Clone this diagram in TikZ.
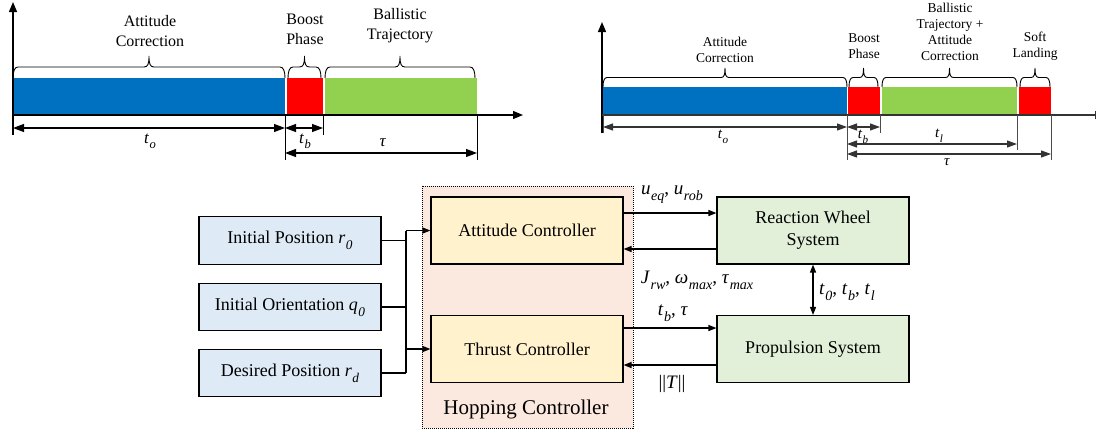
\documentclass[tikz,border=0pt]{standalone}
\usepackage{graphicx}
\usepackage{fontspec}
\setmainfont{Liberation Serif}
\usetikzlibrary{arrows.meta,calc}

\definecolor{barblue}{HTML}{0070C0}
\definecolor{barred}{HTML}{FF0000}
\definecolor{bargreen}{HTML}{92D050}
\definecolor{inblue}{HTML}{DEEBF7}
\definecolor{ctlyellow}{HTML}{FFF2CC}
\definecolor{sysgreen}{HTML}{E2F0D9}
\definecolor{hopbg}{HTML}{FBE9DF}

% italic symbol with a lowered, reduced subscript
\newcommand\vsub[2]{\textit{#1}\kern0.03em\raisebox{-0.32em}{\scalebox{0.74}{\textit{#2}}}}

% curly brace over a bar: x1, x2, base y, half height, end radius
\newcommand\tlbrace[5]{%
  \draw[brc] (#1,#3) .. controls (#1,{#3-0.6*#4}) and ({#1+0.3*#5},{#3-#4}) .. ({#1+#5},{#3-#4})
    -- ({(#1+#2)/2-#5},{#3-#4})
    .. controls ({(#1+#2)/2-0.2*#5},{#3-#4}) and ({(#1+#2)/2},{#3-1.3*#4}) .. ({(#1+#2)/2},{#3-2*#4})
    .. controls ({(#1+#2)/2},{#3-1.3*#4}) and ({(#1+#2)/2+0.2*#5},{#3-#4}) .. ({(#1+#2)/2+#5},{#3-#4})
    -- ({#2-#5},{#3-#4})
    .. controls ({#2-0.3*#5},{#3-#4}) and (#2,{#3-0.6*#4}) .. (#2,#3);}

\begin{document}
\begin{tikzpicture}[x=1pt,y=-1pt,
  bar/.style={draw=none,inner sep=0pt,outer sep=0pt,anchor=north west},
  brc/.style={line width=0.9pt},
  axis/.style={line width=1.3pt,-{Triangle[length=10pt,width=8pt]}},
  dimL/.style={line width=1.1pt,{Triangle[length=11pt,width=8pt]}-{Triangle[length=11pt,width=8pt]}},
  dimR/.style={line width=1.1pt,draw=black!80,{Triangle[length=10pt,width=7pt]}-{Triangle[length=10pt,width=7pt]}},
  tick/.style={line width=1pt},
  tickR/.style={line width=1pt,draw=black!70},
  lblL/.style={align=center,font=\fontsize{16}{20}\selectfont,inner sep=0pt},
  lblR/.style={align=center,font=\fontsize{13.5}{16}\selectfont,inner sep=0pt},
  mathL/.style={font=\fontsize{17}{20}\selectfont,inner sep=0pt},
  mathR/.style={font=\fontsize{15}{17}\selectfont,inner sep=0pt},
  blk/.style={draw,line width=1.1pt,minimum width=192,minimum height=67,align=center,
    font=\fontsize{18}{22}\selectfont,inner sep=2pt},
  inbox/.style={blk,fill=inblue,minimum width=182,minimum height=47.5},
  ctl/.style={blk,fill=ctlyellow},
  sys/.style={blk,fill=sysgreen},
  conn/.style={line width=1.2pt,-{Triangle[length=8pt,width=6pt]}},
  plain/.style={line width=1.2pt},
  sig/.style={font=\fontsize{19}{22}\selectfont,inner sep=0pt}
]
\useasboundingbox (0,0) rectangle (1096,432);

% ---------- timeline without landing ----------
\node[bar,fill=barblue,minimum width=272,minimum height=37] (LA) at (13,78) {};
\node[bar,fill=barred,minimum width=36,minimum height=37] (LB) at (287,78) {};
\node[bar,fill=bargreen,minimum width=152,minimum height=37] (LC) at (325,78) {};
\draw[axis] (13,135) -- (13,2);
\draw[axis] (13,115) -- (523,115);

\tlbrace{13}{285}{78}{11}{5}
\tlbrace{288}{321}{78}{11}{5}
\tlbrace{325}{475}{78}{11}{5}
\node[lblL] (tA) at (150,31) {Attitude\\Correction};
\node[lblL] (tB) at (305,29) {Boost\\Phase};
\node[lblL] (tC) at (400,26) {Ballistic\\Trajectory};

\draw[tick] (285,115) -- (285,160);
\draw[tick] (323,115) -- (323,135);
\draw[tick] (477,115) -- (477,160);
\coordinate (l0) at (13,128);
\coordinate (l1) at (285,128);
\coordinate (l2) at (323,128);
\coordinate (l3) at (285,153);
\coordinate (l4) at (477,153);
\draw[dimL] (l0) -- (l1);
\draw[dimL] (l1) -- (l2);
\draw[dimL] (l3) -- (l4);
\node[mathL] (mo) at (150,141) {\vsub{t}{o}};
\node[mathL] (mb) at (305,141) {\vsub{t}{b}};
\node[mathL] (mt) at (383,143) {\textit{τ}};

% ---------- timeline with soft landing ----------
\node[bar,fill=barblue,minimum width=244,minimum height=28] (RA) at (603,87) {};
\node[bar,fill=barred,minimum width=32,minimum height=28] (RB) at (848,87) {};
\node[bar,fill=bargreen,minimum width=135,minimum height=28] (RC) at (882,87) {};
\node[bar,fill=barred,minimum width=32,minimum height=28] (RD) at (1019,87) {};
\draw[axis] (602,133) -- (602,22);
\draw[axis,draw=black!80] (602,115) -- (1105,115);

\tlbrace{603}{847}{87}{9.5}{4}
\tlbrace{849}{878}{87}{9.5}{4}
\tlbrace{882}{1017}{87}{9.5}{4}
\tlbrace{1020}{1050}{87}{9.5}{4}
\node[lblR] (rA) at (725,50) {Attitude\\Correction};
\node[lblR] (rB) at (864,46.5) {Boost\\Phase};
\node[lblR] (rC) at (950,32) {Ballistic\\Trajectory +\\Attitude\\Correction};
\node[lblR] (rD) at (1035,46.5) {Soft\\Landing};

\draw[tickR] (603,115) -- (603,133);
\draw[tickR] (847,115) -- (847,160);
\draw[tickR] (880,115) -- (880,133);
\draw[tickR] (1017,115) -- (1017,150);
\draw[tickR] (1051,115) -- (1051,160);
\coordinate (r0) at (603,127);
\coordinate (r1) at (847,127);
\coordinate (r2) at (880,127);
\coordinate (r3) at (847,144);
\coordinate (r4) at (1017,144);
\coordinate (r5) at (847,154);
\coordinate (r6) at (1051,154);
\draw[dimR] (r0) -- (r1);
\draw[dimR] (r1) -- (r2);
\draw[dimR] (r3) -- (r4);
\draw[dimR] (r5) -- (r6);
\node[mathR] (no) at (723,137) {\vsub{t}{o}};
\node[mathR] (nb) at (863,137) {\vsub{t}{b}};
\node[mathR] (nl) at (939,136) {\vsub{t}{l}};
\node[mathR] (nt) at (947,162) {\textit{τ}};

% ---------- controller block diagram ----------
\node[draw,dash pattern=on 1pt off 1pt,line width=0.8pt,fill=hopbg,
  minimum width=211,minimum height=242,inner sep=0pt] (hop) at (527.5,307) {};
\node[font=\fontsize{21}{24}\selectfont,inner sep=0pt] (hoplbl) at (526,409) {Hopping Controller};

\node[inbox] (ip) at (290,240.5) {Initial Position \vsub{r}{0}};
\node[inbox] (io) at (290,307) {Initial Orientation \vsub{q}{0}};
\node[inbox] (dp) at (290,373) {Desired Position \vsub{r}{d}};

\node[ctl] (ac) at (527,230.5) {Attitude Controller};
\node[ctl] (tc) at (527,349) {Thrust Controller};
\node[sys] (rw) at (813,230.5) {Reaction Wheel\\System};
\node[sys] (ps) at (813,349) {Propulsion System};

% input bus feeding both controllers
\coordinate (bt) at (406,230.5);
\coordinate (bm) at (406,349);
\coordinate (bb) at (406,373);
\draw[plain] (bt) -- (bb);
\draw[plain] (ip.east) -- (ip.east -| bt);
\draw[plain] (io.east) -- (io.east -| bt);
\draw[plain] (dp.east) -- (dp.east -| bt);
\draw[conn] (bt) -- (ac.west);
\draw[conn] (bm) -- (tc.west);

% signals between controllers and actuators
\draw[conn] ([yshift=17.5pt]ac.east) -- ([yshift=17.5pt]ac.east -| rw.west);
\draw[conn] ([yshift=-18.5pt]rw.west) -- ([yshift=-18.5pt]rw.west -| ac.east);
\draw[conn] ([yshift=21pt]tc.east) -- ([yshift=21pt]tc.east -| ps.west);
\draw[conn] ([yshift=-16pt]ps.west) -- ([yshift=-16pt]ps.west -| tc.east);
\draw[line width=1.2pt,{Triangle[length=8pt,width=6pt]}-{Triangle[length=8pt,width=6pt]}] (rw.south) -- (ps.north);

\node[sig] (s1) at (672,195) {\vsub{u}{eq}, \vsub{u}{rob}};
\node[sig] (s2) at (697,280) {\vsub{J}{rw}, \vsub{ω}{max}, \vsub{τ}{max}};
\node[sig] (s3) at (673,313) {\vsub{t}{b}, \textit{τ}};
\node[sig] (s4) at (672,384) {||\textit{T}||};
\node[sig,anchor=west] (s5) at (819,292) {\vsub{t}{0}, \vsub{t}{b}, \vsub{t}{l}};
\end{tikzpicture}
\end{document}
